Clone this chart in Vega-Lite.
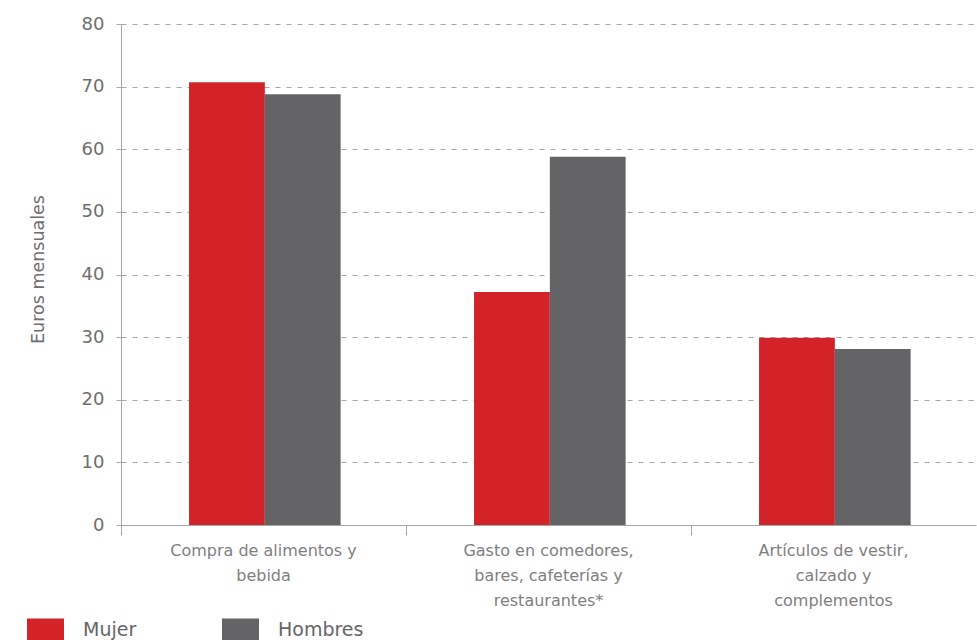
{
  "$schema": "https://vega.github.io/schema/vega-lite/v6.json",
  "width": 855,
  "height": 501,
  "autosize": {"type": "none"},
  "padding": {"left": 121, "top": 24, "right": 1, "bottom": 115},
  "background": "white",
  "config": {
    "view": {"stroke": null},
    "font": "DejaVu Sans"
  },
  "data": {
    "values": [
      {"categoria": "Compra de alimentos y bebida", "sexo": "Mujer", "valor": 70.7},
      {"categoria": "Compra de alimentos y bebida", "sexo": "Hombres", "valor": 68.8},
      {"categoria": "Gasto en comedores, bares, cafeterías y restaurantes*", "sexo": "Mujer", "valor": 37.2},
      {"categoria": "Gasto en comedores, bares, cafeterías y restaurantes*", "sexo": "Hombres", "valor": 58.8},
      {"categoria": "Artículos de vestir, calzado y complementos", "sexo": "Mujer", "valor": 29.9},
      {"categoria": "Artículos de vestir, calzado y complementos", "sexo": "Hombres", "valor": 28.1}
    ]
  },
  "mark": {"type": "bar"},
  "encoding": {
    "x": {
      "field": "categoria",
      "type": "nominal",
      "sort": null,
      "scale": {"paddingInner": 0, "paddingOuter": 0},
      "axis": {
        "title": null,
        "labelAngle": 0,
        "bandPosition": 0,
        "domainColor": "#a6a6a6",
        "tickColor": "#a6a6a6",
        "tickSize": 10,
        "labelFontSize": 16,
        "labelColor": "#808080",
        "labelPadding": 7,
        "labelLineHeight": 25,
        "labelLimit": 300,
        "labelBaseline": "top",
        "labelExpr": "datum.value == 'Compra de alimentos y bebida' ? ['Compra de alimentos y', 'bebida'] : datum.value == 'Gasto en comedores, bares, cafeterías y restaurantes*' ? ['Gasto en comedores,', 'bares, cafeterías y', 'restaurantes*'] : ['Artículos de vestir,', 'calzado y', 'complementos']"
      }
    },
    "xOffset": {
      "field": "sexo",
      "type": "nominal",
      "sort": ["Mujer", "Hombres"],
      "scale": {"paddingInner": 0, "paddingOuter": 0.88, "align": 0.51}
    },
    "y": {
      "field": "valor",
      "type": "quantitative",
      "scale": {"domain": [0, 80]},
      "axis": {
        "title": "Euros mensuales",
        "titleFontSize": 17.5,
        "titleFontWeight": "normal",
        "titleColor": "#6e6e6e",
        "titlePadding": 34,
        "titleY": 245,
        "values": [0, 10, 20, 30, 40, 50, 60, 70, 80],
        "labelFontSize": 18,
        "labelColor": "#6e6e6e",
        "labelPadding": 8,
        "tickSize": 9,
        "tickColor": "#a6a6a6",
        "tickDash": [5, 6],
        "domainColor": "#a6a6a6",
        "gridColor": "#a6a6a6",
        "gridDash": [5, 6],
        "grid": true
      }
    },
    "color": {
      "field": "sexo",
      "type": "nominal",
      "sort": ["Mujer", "Hombres"],
      "scale": {"domain": ["Mujer", "Hombres"], "range": ["#d22328", "#646466"]},
      "legend": {
        "title": null,
        "orient": "none",
        "legendX": -94,
        "legendY": 587,
        "direction": "horizontal",
        "columns": 2,
        "columnPadding": 85,
        "symbolType": "M-1,-0.6H1V0.6H-1Z",
        "symbolSize": 1369,
        "symbolStrokeWidth": 0,
        "symbolOpacity": 1,
        "labelFontSize": 19,
        "labelColor": "#666666",
        "labelOffset": 19
      }
    }
  }
}
